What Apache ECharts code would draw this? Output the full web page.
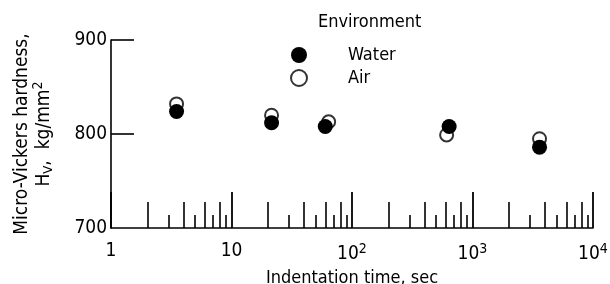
<!DOCTYPE html>
<html>
<head>
<meta charset="utf-8">
<script src="https://cdn.jsdelivr.net/npm/echarts@6/dist/echarts.min.js"></script>
<style>
  html, body { margin: 0; padding: 0; background: #fff; }
  #chart { width: 610px; height: 284px; }
</style>
</head>
<body>
<div id="chart"></div>
<script>
const FONT = "'Liberation Sans Narrow', 'DejaVu Sans Condensed', 'Liberation Sans', sans-serif"

// indentation time (sec) and micro-Vickers hardness (kg/mm2)
const waterTime = [3.5, 21.5, 60, 640, 3600]
const waterHv = [824, 812, 808, 808, 786]
const airTime = [3.5, 21.5, 64, 610, 3600]
const airHv = [832, 820, 813, 799, 795]

const yTicks = [700, 800, 900]
const xMajor = [1, 10, 100, 1000, 10000]
const xMinorLong = [2, 4, 6, 8, 20, 40, 60, 80, 200, 400, 600, 800, 2000, 4000, 6000, 8000]
const xMinorShort = [3, 5, 7, 9, 30, 50, 70, 90, 300, 500, 700, 900, 3000, 5000, 7000, 9000]

function pairs(xs, ys) {
  return xs.map((x, i) => [x, ys[i]])
}

function xLabel(v) {
  const e = Math.round(Math.log10(v))
  if (e === 0) return '1'
  if (e === 1) return '10'
  return '10{sup|' + e + '}'
}

const chart = echarts.init(document.getElementById('chart'), undefined, { renderer: 'canvas' })

const tickAxis = (values, len) => ({
  type: 'log',
  logBase: 10,
  min: 1,
  max: 10000,
  position: 'bottom',
  axisLine: { show: false },
  axisLabel: { show: false },
  splitLine: { show: false },
  axisTick: {
    show: true,
    inside: true,
    length: len,
    customValues: values,
    lineStyle: { color: '#000', width: 1.6 },
  },
})

chart.setOption({
  animation: false,
  backgroundColor: '#fff',
  textStyle: { fontFamily: FONT, color: '#000' },
  title: {
    text: 'Environment',
    left: 313,
    top: 8,
    textStyle: { fontFamily: FONT, fontSize: 18, fontWeight: 'normal', color: '#000' },
  },
  legend: {
    orient: 'vertical',
    left: 285,
    top: 41,
    itemGap: 5,
    itemWidth: 16,
    itemHeight: 16,
    data: ['Water', 'Air'],
    textStyle: { fontFamily: FONT, fontSize: 18, color: '#000', padding: [0, 0, 0, 36] },
  },
  grid: { left: 111, right: 17, top: 40, bottom: 56, outerBoundsMode: 'none', containLabel: false },
  xAxis: [
    {
      type: 'log',
      logBase: 10,
      min: 1,
      max: 10000,
      position: 'bottom',
      name: 'Indentation time, sec',
      nameLocation: 'middle',
      nameGap: 33,
      nameTextStyle: { fontFamily: FONT, fontSize: 18, color: '#000' },
      axisLine: { show: true, lineStyle: { color: '#000', width: 1.5 } },
      axisTick: {
        show: true,
        inside: true,
        length: 36,
        customValues: xMajor,
        lineStyle: { color: '#000', width: 1.8 },
      },
      splitLine: { show: false },
      axisLabel: {
        customValues: xMajor,
        margin: 14,
        fontFamily: FONT,
        fontSize: 19,
        color: '#000',
        formatter: xLabel,
        rich: {
          sup: { fontFamily: FONT, fontSize: 14, color: '#000', verticalAlign: 'top', padding: [0, 0, 11, 0] },
        },
      },
    },
    tickAxis(xMinorLong, 26),
    tickAxis(xMinorShort, 13),
  ],
  yAxis: {
    type: 'value',
    min: 700,
    max: 900,
    interval: 100,
    name: 'Micro-Vickers hardness,\nH{sub|V},  kg/mm{sup|2}',
    nameLocation: 'middle',
    nameRotate: 90,
    nameGap: 56,
    nameTextStyle: {
      fontFamily: FONT,
      fontSize: 19,
      color: '#000',
      lineHeight: 22,
      rich: {
        sub: { fontFamily: FONT, fontSize: 13, color: '#000', padding: [9, 0, 0, 0] },
        sup: { fontFamily: FONT, fontSize: 14, color: '#000', padding: [0, 0, 11, 0] },
      },
    },
    axisLine: { show: true, lineStyle: { color: '#000', width: 1.6 } },
    axisTick: { show: true, inside: true, length: 23, customValues: yTicks.slice(1), lineStyle: { color: '#000', width: 1.6 } },
    splitLine: { show: false },
    axisLabel: { margin: 4, fontFamily: FONT, fontSize: 19, color: '#000' },
  },
  series: [
    {
      name: 'Air',
      type: 'scatter',
      xAxisIndex: 0,
      symbol: 'circle',
      symbolSize: 13,
      itemStyle: { color: '#fff', borderColor: '#000', borderWidth: 2 },
      data: pairs(airTime, airHv),
      z: 2,
    },
    {
      name: 'Water',
      type: 'scatter',
      xAxisIndex: 0,
      symbol: 'circle',
      symbolSize: 15,
      itemStyle: { color: '#000', opacity: 1 },
      data: pairs(waterTime, waterHv),
      z: 3,
    },
  ],
})
</script>
</body>
</html>
